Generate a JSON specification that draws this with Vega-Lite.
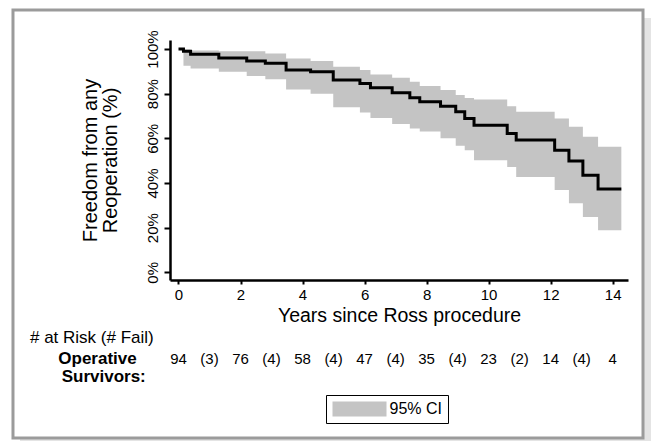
{
  "$schema": "https://vega.github.io/schema/vega-lite/v6.json",
  "autosize": "none",
  "width": 458,
  "height": 240,
  "padding": {"left": 170, "top": 40, "right": 24, "bottom": 161},
  "background": "white",
  "config": {
    "font": "Liberation Sans",
    "view": {"stroke": null},
    "axis": {"domainColor": "black", "tickColor": "black", "labelColor": "black", "titleColor": "black", "grid": false, "titleFontWeight": "normal", "domainWidth": 2.5, "tickWidth": 2}
  },
  "datasets": {
    "km": [
      {"t": 0, "s": 1.0, "lo": null, "hi": null},
      {"t": 0.16, "s": 0.99, "lo": 0.925, "hi": 0.998},
      {"t": 0.39, "s": 0.976, "lo": 0.913, "hi": 0.993},
      {"t": 1.30, "s": 0.96, "lo": 0.898, "hi": 0.99},
      {"t": 2.20, "s": 0.946, "lo": 0.879, "hi": 0.99},
      {"t": 2.80, "s": 0.936, "lo": 0.864, "hi": 0.98},
      {"t": 3.47, "s": 0.906, "lo": 0.819, "hi": 0.957},
      {"t": 4.26, "s": 0.898, "lo": 0.80, "hi": 0.946},
      {"t": 4.99, "s": 0.861, "lo": 0.739, "hi": 0.921},
      {"t": 5.85, "s": 0.846, "lo": 0.716, "hi": 0.906},
      {"t": 6.19, "s": 0.826, "lo": 0.691, "hi": 0.886},
      {"t": 6.89, "s": 0.804, "lo": 0.664, "hi": 0.871},
      {"t": 7.46, "s": 0.782, "lo": 0.644, "hi": 0.853},
      {"t": 7.78, "s": 0.764, "lo": 0.63, "hi": 0.834},
      {"t": 8.45, "s": 0.744, "lo": 0.60, "hi": 0.816},
      {"t": 8.94, "s": 0.719, "lo": 0.567, "hi": 0.794},
      {"t": 9.23, "s": 0.689, "lo": 0.547, "hi": 0.78},
      {"t": 9.53, "s": 0.658, "lo": 0.502, "hi": 0.774},
      {"t": 10.60, "s": 0.622, "lo": 0.472, "hi": 0.744},
      {"t": 10.89, "s": 0.592, "lo": 0.427, "hi": 0.719},
      {"t": 12.13, "s": 0.547, "lo": 0.368, "hi": 0.689},
      {"t": 12.59, "s": 0.498, "lo": 0.309, "hi": 0.652},
      {"t": 13.04, "s": 0.435, "lo": 0.248, "hi": 0.607},
      {"t": 13.53, "s": 0.373, "lo": 0.188, "hi": 0.562},
      {"t": 14.28, "s": 0.373, "lo": 0.188, "hi": 0.562}
    ],
    "risk": [
      {"year": 0, "label": "94"},
      {"year": 1, "label": "(3)"},
      {"year": 2, "label": "76"},
      {"year": 3, "label": "(4)"},
      {"year": 4, "label": "58"},
      {"year": 5, "label": "(4)"},
      {"year": 6, "label": "47"},
      {"year": 7, "label": "(4)"},
      {"year": 8, "label": "35"},
      {"year": 9, "label": "(4)"},
      {"year": 10, "label": "23"},
      {"year": 11, "label": "(2)"},
      {"year": 12, "label": "14"},
      {"year": 13, "label": "(4)"},
      {"year": 14, "label": "4"}
    ],
    "one": [{}]
  },
  "data": {"name": "km"},
  "layer": [
    {
      "data": {"name": "one"},
      "mark": {"type": "rect", "fill": "#e4e4e4"},
      "encoding": {
        "x": {"datum": -5.111, "type": "quantitative"},
        "x2": {"datum": 15.237},
        "y": {"datum": 1.1388, "type": "quantitative"},
        "y2": {"datum": -0.7555}
      }
    },
    {
      "data": {"name": "one"},
      "mark": {"type": "rect", "fill": "white", "stroke": "#9b9b9b", "strokeWidth": 3},
      "encoding": {
        "x": {"datum": -5.337, "type": "quantitative"},
        "x2": {"datum": 14.979},
        "y": {"datum": 1.1747, "type": "quantitative"},
        "y2": {"datum": -0.742}
      }
    },
    {
      "transform": [{"filter": "datum.lo != null"}],
      "mark": {"type": "area", "interpolate": "step-after"},
      "encoding": {
        "x": {"field": "t", "type": "quantitative", "scale": {"domain": [-0.274, 14.495], "nice": false, "zero": false},
          "axis": {"zindex": 1, "values": [0, 2, 4, 6, 8, 10, 12, 14], "title": "Years since Ross procedure", "titleFontSize": 19.5, "labelFontSize": 15, "tickSize": 4, "labelPadding": 3, "titlePadding": 4}},
        "y": {"field": "lo", "type": "quantitative", "scale": {"domain": [-0.0345, 1.0403], "nice": false, "zero": false},
          "axis": {"zindex": 1, "values": [0, 0.2, 0.4, 0.6, 0.8, 1.0], "format": ".0%", "labelAngle": -90, "labelAlign": "center", "labelBaseline": "bottom", "labelFontSize": 15, "tickSize": 6, "labelPadding": 4,
            "title": ["Freedom from any", "Reoperation (%)"], "titleFontSize": 20, "titleLineHeight": 20, "titlePadding": 25}},
        "y2": {"field": "hi"},
        "fill": {"datum": "95% CI", "type": "nominal", "scale": {"range": ["#c4c4c4"]},
          "legend": {"title": null, "orient": "none", "legendX": 156, "legendY": 355, "strokeColor": "black", "padding": 6,
            "symbolType": "M-3.6,-1H3.6V1H-3.6Z", "symbolSize": 225, "symbolOffset": 19.5, "symbolStrokeWidth": 0, "symbolOpacity": 1,
            "labelOffset": 22, "labelFontSize": 16, "labelColor": "black", "labelExpr": "datum.label + '         '"}}
      }
    },
    {
      "mark": {"type": "line", "interpolate": "step-after", "color": "black", "strokeWidth": 3},
      "encoding": {
        "x": {"field": "t", "type": "quantitative"},
        "y": {"field": "s", "type": "quantitative"}
      }
    },
    {
      "data": {"name": "risk"},
      "mark": {"type": "text", "fontSize": 15, "align": "center", "baseline": "middle", "fill": "black"},
      "encoding": {
        "x": {"field": "year", "type": "quantitative"},
        "y": {"datum": -0.388, "type": "quantitative"},
        "text": {"field": "label"}
      }
    },
    {
      "data": {"name": "one"},
      "mark": {"type": "text", "text": "# at Risk (# Fail)", "fontSize": 17, "align": "left", "baseline": "middle", "fill": "black"},
      "encoding": {
        "x": {"datum": -4.789, "type": "quantitative"},
        "y": {"datum": -0.294, "type": "quantitative"}
      }
    },
    {
      "data": {"name": "one"},
      "mark": {"type": "text", "text": "Operative", "fontSize": 17, "fontWeight": "bold", "align": "left", "baseline": "middle", "fill": "black"},
      "encoding": {
        "x": {"datum": -3.876, "type": "quantitative"},
        "y": {"datum": -0.388, "type": "quantitative"}
      }
    },
    {
      "data": {"name": "one"},
      "mark": {"type": "text", "text": "Survivors:", "fontSize": 17, "fontWeight": "bold", "align": "left", "baseline": "middle", "fill": "black"},
      "encoding": {
        "x": {"datum": -3.767, "type": "quantitative"},
        "y": {"datum": -0.469, "type": "quantitative"}
      }
    }
  ]
}
